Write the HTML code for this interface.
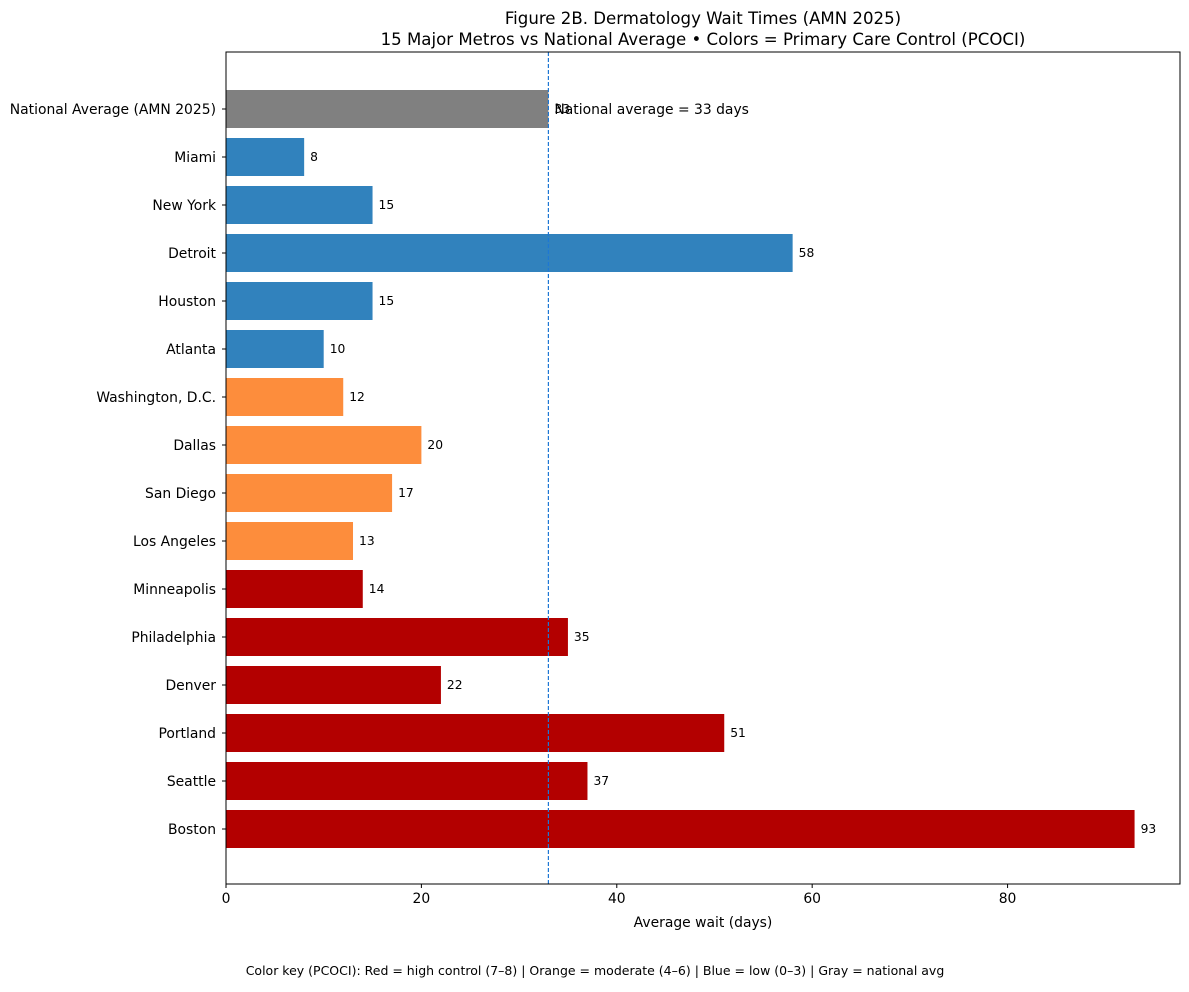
<!DOCTYPE html>
<html><head><meta charset="utf-8"><style>
body{margin:0;background:#fff;}
svg text{font-family:"DejaVu Sans","Liberation Sans",sans-serif;}
</style></head><body>
<svg id="chart" width="1189" height="987" xmlns="http://www.w3.org/2000/svg">
<rect width="1189" height="987" fill="#fff"/>
<text x="703" y="24" text-anchor="middle" font-size="16.6">Figure 2B. Dermatology Wait Times (AMN 2025)</text>
<text x="703" y="45" text-anchor="middle" font-size="16.6">15 Major Metros vs National Average • Colors = Primary Care Control (PCOCI)</text>
<g id="plot"></g>
<text x="703" y="927" text-anchor="middle" font-size="13.9">Average wait (days)</text>
<text x="595" y="975" text-anchor="middle" font-size="12.5">Color key (PCOCI): Red = high control (7–8) | Orange = moderate (4–6) | Blue = low (0–3) | Gray = national avg</text>
</svg>
<script>
const categories=["National Average (AMN 2025)","Miami","New York","Detroit","Houston","Atlanta","Washington, D.C.","Dallas","San Diego","Los Angeles","Minneapolis","Philadelphia","Denver","Portland","Seattle","Boston"];
const values=[33,8,15,58,15,10,12,20,17,13,14,35,22,51,37,93];
const groups=["gray","blue","blue","blue","blue","blue","orange","orange","orange","orange","red","red","red","red","red","red"];
const xTicks=[0,20,40,60,80];
const nationalAvg=33;
const colors={gray:"#808080",blue:"#3182bd",orange:"#fd8d3c",red:"#b30000"};
const L=226,R=1180,T=52,B=884;
const xMax=97.65;
const x=v=>L+v/xMax*(R-L);
const y=i=>109+i*48;
const ns="http://www.w3.org/2000/svg";
const g=document.getElementById("plot");
function mk(tag,attrs,txt){const e=document.createElementNS(ns,tag);for(const k in attrs)e.setAttribute(k,attrs[k]);if(txt!=null)e.textContent=txt;g.appendChild(e);return e;}
categories.forEach((c,i)=>{
  const b=mk("rect",{x:x(0),y:y(i)-19,width:x(values[i])-x(0),height:38,fill:colors[groups[i]]});
  
  
  const t=mk("text",{x:x(values[i])+6,y:y(i)+4,"font-size":12.3},values[i]);
  
  
  const l=mk("text",{x:L-10,y:y(i)+5,"text-anchor":"end","font-size":13.9},c);
  
  
  const tk=mk("line",{x1:L-4,x2:L,y1:y(i),y2:y(i),stroke:"#000"});
  
  
});
const av=mk("line",{x1:x(nationalAvg),x2:x(nationalAvg),y1:T,y2:B,stroke:"#1f77d4","stroke-width":1.2,"stroke-dasharray":"4,2"});


const at=mk("text",{x:x(nationalAvg)+6,y:y(0)+5,"font-size":13.9},"National average = "+nationalAvg+" days");


const fr=mk("rect",{x:L,y:T,width:R-L,height:B-T,fill:"none",stroke:"#000","stroke-width":1});


xTicks.forEach(v=>{
  const tk=mk("line",{x1:x(v),x2:x(v),y1:B,y2:B+4,stroke:"#000"});
  
  
  const t=mk("text",{x:x(v),y:B+19,"text-anchor":"middle","font-size":13.9},v);
  
  
});
</script>
</body></html>
